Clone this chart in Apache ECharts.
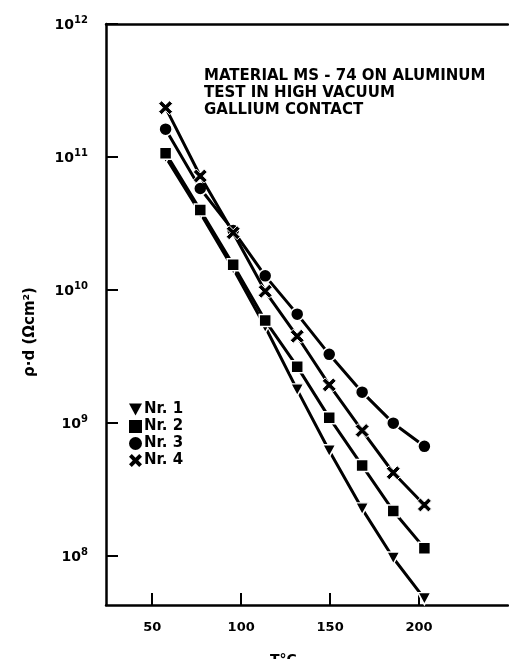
<!DOCTYPE html>
<html>
<head>
<meta charset="utf-8">
<script src="https://cdn.jsdelivr.net/npm/echarts@6/dist/echarts.min.js"></script>
<style>
html,body{margin:0;padding:0;background:#fff;}
#chart{width:509px;height:659px;}
</style>
</head>
<body>
<div id="chart"></div>
<script>
// Temperatures (°C)
var temps = [57.5, 77, 95.5, 113.5, 131.5, 149.5, 168, 185.5, 203];
// rho*d (Ohm cm^2)
var nr1 = [1.0e11, 3.8e10, 1.45e10, 5.3e9, 1.78e9, 6.2e8, 2.27e8, 9.7e7, 4.8e7];
var nr2 = [1.07e11, 4.0e10, 1.55e10, 5.9e9, 2.66e9, 1.1e9, 4.8e8, 2.19e8, 1.15e8];
var nr3 = [1.62e11, 5.8e10, 2.8e10, 1.28e10, 6.6e9, 3.29e9, 1.71e9, 1.0e9, 6.7e8];
var nr4 = [2.35e11, 7.2e10, 2.7e10, 9.8e9, 4.5e9, 1.94e9, 8.8e8, 4.24e8, 2.43e8];
var seriesNames = ['Nr. 1', 'Nr. 2', 'Nr. 3', 'Nr. 4'];
var xTicks = [50, 100, 150, 200];
var yTicks = [1e8, 1e9, 1e10, 1e11, 1e12];
var headerLines = ['MATERIAL MS - 74 ON ALUMINUM', 'TEST IN HIGH VACUUM', 'GALLIUM CONTACT'];
var xName = 'T°C';
var yName = 'ρ·d (Ωcm²)';

var FONT = 'DejaVu Sans';
var triDown = 'path://M0,0 L12,0 L6,11 Z';
var crossPath = 'path://M0,3 L3,0 L7,4 L11,0 L14,3 L10,7 L14,11 L11,14 L7,10 L3,14 L0,11 L4,7 Z';
var symbols = [triDown, 'rect', 'circle', crossPath];
var sizes = [[13, 12], 12, 13, 14];
var borders = [1.5, 1.5, 1.5, 1];
var datasets = [nr1, nr2, nr3, nr4];

function pairs(vals) {
  return temps.map(function (t, i) { return [t, vals[i]]; });
}

var chart = echarts.init(document.getElementById('chart'), null, {renderer: 'canvas'});

var series = datasets.map(function (vals, k) {
  return {
    name: seriesNames[k],
    type: 'line',
    data: pairs(vals),
    symbol: symbols[k],
    symbolSize: sizes[k],
    showAllSymbol: true,
    lineStyle: {color: '#000', width: 3},
    itemStyle: {color: '#000', borderColor: '#fff', borderWidth: borders[k]},
    emphasis: {disabled: true},
    animation: false,
    z: 2 + k
  };
});

var option = {
  animation: false,
  backgroundColor: '#fff',
  grid: {left: 106, top: 24, right: 1, bottom: 54},
  title: [{
    text: headerLines.join('\n'),
    left: 199,
    top: 63,
    textStyle: {fontFamily: FONT, fontWeight: 'bold', fontSize: 15, lineHeight: 17, color: '#000'}
  }, {
    text: xName,
    left: 265,
    top: 648,
    textStyle: {fontFamily: FONT, fontWeight: 'bold', fontSize: 14, color: '#000'}
  }],
  graphic: [{
    type: 'text',
    x: 30,
    y: 332,
    rotation: Math.PI / 2,
    style: {
      text: yName,
      font: 'bold 15px "DejaVu Sans"',
      fill: '#000',
      align: 'center',
      verticalAlign: 'middle'
    }
  }],
  legend: {
    orient: 'vertical',
    left: 129,
    top: 402,
    padding: 0,
    itemGap: 2,
    itemWidth: 13,
    itemHeight: 13,
    selectedMode: false,
    textStyle: {fontFamily: FONT, fontWeight: 'bold', fontSize: 15, lineHeight: 15, color: '#000', padding: [0, 0, 0, -3]},
    data: seriesNames.map(function (n, k) {
      return {name: n, icon: symbols[k], itemStyle: {color: '#000', borderWidth: 0}};
    })
  },
  xAxis: [{
    type: 'value',
    min: 24,
    max: 250,
    position: 'bottom',
    axisLine: {show: true, onZero: false, lineStyle: {color: '#000', width: 2.5}},
    axisTick: {show: true, inside: true, length: 12, customValues: xTicks, lineStyle: {color: '#000', width: 2}},
    axisLabel: {show: true, customValues: xTicks, margin: 16, fontFamily: FONT, fontWeight: 'bold', fontSize: 13, color: '#000'},
    splitLine: {show: false}
  }, {
    type: 'value',
    min: 24,
    max: 250,
    position: 'top',
    axisLine: {show: true, onZero: false, lineStyle: {color: '#000', width: 2.5}},
    axisTick: {show: false},
    axisLabel: {show: false},
    splitLine: {show: false}
  }],
  yAxis: {
    type: 'log',
    logBase: 10,
    min: 4.3e7,
    max: 1e12,
    axisLine: {show: true, onZero: false, lineStyle: {color: '#000', width: 2.5}},
    axisTick: {show: true, inside: true, length: 12, customValues: yTicks, lineStyle: {color: '#000', width: 2}},
    axisLabel: {
      show: true,
      customValues: yTicks,
      margin: 18,
      formatter: function (v) {
        var e = Math.round(Math.log10(v));
        return '{b|10}{s|' + e + '}';
      },
      rich: {
        b: {fontFamily: FONT, fontWeight: 'bold', fontSize: 14, color: '#000', lineHeight: 17, verticalAlign: 'bottom'},
        s: {fontFamily: FONT, fontWeight: 'bold', fontSize: 10, color: '#000', lineHeight: 17, verticalAlign: 'top'}
      }
    },
    splitLine: {show: false}
  },
  series: series
};

chart.setOption(option);
</script>
</body>
</html>
